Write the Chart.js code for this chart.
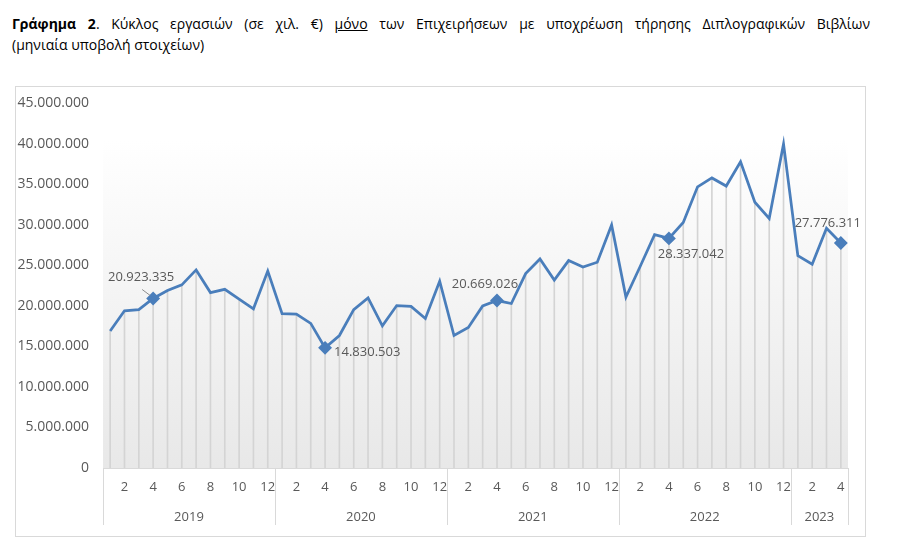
<!DOCTYPE html>
<html><head><meta charset="utf-8">
<script src="https://cdn.jsdelivr.net/npm/chart.js@4.4.0/dist/chart.umd.min.js"></script>
<style>
html,body{margin:0;padding:0;background:#fff;}
body{width:910px;height:551px;position:relative;overflow:hidden;font-family:"Open Sans",sans-serif;color:#000;}
.t{position:absolute;left:12px;width:858px;font-size:14px;line-height:20px;}
#t1{top:14px;text-align:justify;text-align-last:justify;}
#t2{top:35px;}
#box{position:absolute;left:15px;top:86px;width:849px;height:449px;border:1px solid #d9d9d9;}
canvas{display:block;position:absolute;left:0;top:-6px;}
</style></head>
<body>
<div class="t" id="t1"><b>Γράφημα 2</b>. Κύκλος εργασιών (σε χιλ. €) <u>μόνο</u> των Επιχειρήσεων με υποχρέωση τήρησης Διπλογραφικών Βιβλίων</div>
<div class="t" id="t2">(μηνιαία υποβολή στοιχείων)</div>
<div id="box"><canvas id="c" width="849" height="455"></canvas></div>
<script>
// ---- data ----
const years = ['2019', '2020', '2021', '2022', '2023'];
const monthLabels = [
  '1','2','3','4','5','6','7','8','9','10','11','12',
  '1','2','3','4','5','6','7','8','9','10','11','12',
  '1','2','3','4','5','6','7','8','9','10','11','12',
  '1','2','3','4','5','6','7','8','9','10','11','12',
  '1','2','3','4'
];
const monthsPerYear = [12, 12, 12, 12, 4];
const turnover = [
  16900000, 19400000, 19550000, 20923335, 21900000, 22600000, 24450000, 21650000, 22050000, 20850000, 19650000, 24300000,
  19050000, 19000000, 17850000, 14830503, 16350000, 19550000, 21000000, 17550000, 20050000, 19950000, 18450000, 23050000,
  16350000, 17350000, 20000000, 20669026, 20300000, 24000000, 25800000, 23200000, 25600000, 24800000, 25400000, 30000000,
  21100000, 24900000, 28800000, 28337042, 30300000, 34700000, 35800000, 34800000, 37800000, 32800000, 30800000, 40000000,
  26200000, 25150000, 29600000, 27776311
];
const labelledIdx = [3, 15, 27, 39, 51];

const fmt = v => String(Math.round(v)).replace(/\B(?=(\d{3})+(?!\d))/g, '.');
const GREY = '#595959';
const BLUE = '#4a7ebb';

const bgPlugin = {
  id: 'bg',
  beforeDraw(chart) {
    const {ctx, chartArea: a} = chart;
    const g = ctx.createLinearGradient(0, a.top, 0, a.bottom);
    g.addColorStop(0, '#ffffff');
    g.addColorStop(0.1, '#ffffff');
    g.addColorStop(1, '#e8e8e8');
    ctx.save();
    ctx.fillStyle = g;
    ctx.fillRect(a.left, a.top, a.right - a.left, a.bottom - a.top);
    ctx.restore();
  }
};

const yearPlugin = {
  id: 'years',
  afterDraw(chart) {
    const x = chart.scales.x, ctx = chart.ctx;
    const half = (x.getPixelForValue(1) - x.getPixelForValue(0)) / 2;
    ctx.save();
    ctx.strokeStyle = '#d9d9d9';
    ctx.lineWidth = 1;
    ctx.fillStyle = GREY;
    ctx.font = '13px "Open Sans"';
    ctx.textAlign = 'center';
    ctx.textBaseline = 'middle';
    let start = 0;
    years.forEach((yr, i) => {
      const n = monthsPerYear[i];
      const l = x.getPixelForValue(start) - half;
      const r = x.getPixelForValue(start + n - 1) + half;
      const xs = [Math.round(l) + 0.5];
      if (i === years.length - 1) xs.push(Math.round(r) + 0.5);
      xs.forEach(px => {
        ctx.beginPath();
        ctx.moveTo(px, x.top);
        ctx.lineTo(px, x.top + 57);
        ctx.stroke();
      });
      ctx.fillText(yr, (l + r) / 2, x.top + 49);
      start += n;
    });
    ctx.restore();
  }
};

const offsets = {
  3:  {dx: -12, dy: -21, align: 'center', leader: [-11, -9, -3, -3]},
  15: {dx: 9, dy: 4, align: 'left'},
  27: {dx: -12, dy: -16, align: 'center'},
  39: {dx: 22, dy: 16, align: 'center'},
  51: {dx: -13, dy: -20, align: 'center'}
};

const labelPlugin = {
  id: 'vlabels',
  afterDatasetsDraw(chart) {
    const meta = chart.getDatasetMeta(0);
    const ctx = chart.ctx;
    ctx.save();
    ctx.font = '13px "Open Sans"';
    ctx.fillStyle = GREY;
    ctx.textBaseline = 'middle';
    labelledIdx.forEach(i => {
      const p = meta.data[i];
      const o = offsets[i];
      if (o.leader) {
        ctx.strokeStyle = '#8c8c8c';
        ctx.lineWidth = 1;
        ctx.beginPath();
        ctx.moveTo(p.x + o.leader[0], p.y + o.leader[1]);
        ctx.lineTo(p.x + o.leader[2], p.y + o.leader[3]);
        ctx.stroke();
      }
      ctx.textAlign = o.align;
      ctx.fillText(fmt(turnover[i]), p.x + o.dx, p.y + o.dy);
    });
    ctx.restore();
  }
};

new Chart(document.getElementById('c'), {
  data: {
    labels: monthLabels,
    datasets: [
      {
        type: 'line',
        data: turnover,
        borderColor: BLUE,
        backgroundColor: BLUE,
        borderWidth: 2.75,
        tension: 0,
        pointStyle: 'rectRot',
        pointRadius: ctx => labelledIdx.includes(ctx.dataIndex) ? 5 : 0,
        pointBackgroundColor: BLUE,
        pointBorderColor: BLUE,
        order: 0
      },
      {
        type: 'bar',
        data: turnover,
        backgroundColor: '#d4d4d4',
        barThickness: 1,
        order: 1
      }
    ]
  },
  options: {
    responsive: false,
    animation: false,
    layout: {padding: {top: 9, right: 17, left: 0, bottom: 0}},
    plugins: {legend: {display: false}, tooltip: {enabled: false}},
    scales: {
      x: {
        type: 'category',
        offset: true,
        grid: {display: false, drawTicks: false},
        border: {display: true, color: '#d9d9d9', width: 1},
        ticks: {
          autoSkip: false, maxRotation: 0, padding: 11, color: GREY,
          font: {family: 'Open Sans', size: 13},
          callback: function(v, i) { const l = monthLabels[i]; return (+l % 2 === 0) ? l : ''; }
        },
        afterFit: s => { s.height = 68; }
      },
      y: {
        min: 0, max: 45000000,
        grid: {display: false, drawTicks: false},
        border: {display: false},
        ticks: {stepSize: 5000000, padding: 14, color: GREY, font: {family: 'Open Sans', size: 14}, callback: v => fmt(v)},
        afterFit: s => { s.width = 87; }
      }
    }
  },
  plugins: [bgPlugin, yearPlugin, labelPlugin]
});
</script>
</body></html>
